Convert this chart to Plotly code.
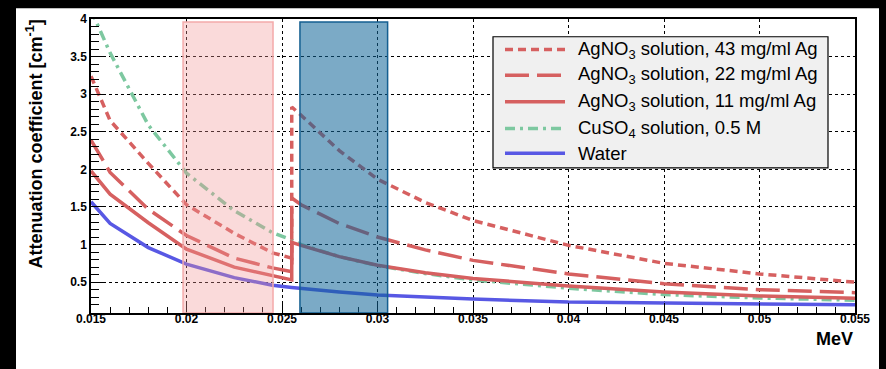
import plotly.graph_objects as go

# ---------------- data ----------------
energy = [0.015, 0.016, 0.018, 0.020, 0.0225, 0.0245, 0.02551, 0.02551, 0.026, 0.028,
          0.030, 0.0325, 0.035, 0.040, 0.045, 0.050, 0.055]
agno3_43 = [3.24, 2.65, 2.08, 1.53, 1.15, 0.89, 0.82, 2.83, 2.72, 2.25,
            1.87, 1.56, 1.32, 0.99, 0.75, 0.61, 0.50]
agno3_22 = [2.39, 1.96, 1.47, 1.12, 0.82, 0.69, 0.64, 1.62, 1.53, 1.28,
            1.10, 0.93, 0.79, 0.61, 0.48, 0.40, 0.36]
agno3_11 = [1.98, 1.67, 1.29, 0.94, 0.70, 0.58, 0.53, 1.03, 0.99, 0.84,
            0.725, 0.625, 0.55, 0.45, 0.37, 0.316, 0.285]
cuso4 = [4.12, 3.55, 2.59, 1.95, 1.45, 1.16, 1.06, 1.06, 1.00, 0.84,
         0.72, 0.615, 0.53, 0.42, 0.335, 0.29, 0.26]
water = [1.57, 1.28, 0.96, 0.74, 0.56, 0.46, 0.43, 0.43, 0.417, 0.37,
         0.33, 0.30, 0.275, 0.235, 0.22, 0.21, 0.20]

series_names = ["AgNO<sub>3</sub> solution, 43 mg/ml Ag",
                "AgNO<sub>3</sub> solution, 22 mg/ml Ag",
                "AgNO<sub>3</sub> solution, 11 mg/ml Ag",
                "CuSO<sub>4</sub> solution, 0.5 M",
                "Water"]

band_pink = [0.01982, 0.02453]
band_blue = [0.02594, 0.03053]
band_top = 3.96

x_tickvals = [0.015, 0.02, 0.025, 0.03, 0.035, 0.04, 0.045, 0.05, 0.055]
x_ticktext = ["0.015", "0.02", "0.025", "0.03", "0.035", "0.04", "0.045", "0.05", "0.055"]
y_tickvals = [0.5, 1, 1.5, 2, 2.5, 3, 3.5, 4]
y_ticktext = ["0.5", "1", "1.5", "2", "2.5", "3", "3.5", "4"]

# ---------------- styling ----------------
W, H = 886, 369
ML, MR, MT, MB = 91, 31, 15, 56
PW, PH = W - ML - MR, H - MT - MB

def px2x(px):
    return (px - ML) / PW

def px2y(py):
    return (H - MB - py) / PH

RED = "rgb(214,96,96)"
GREEN = "rgb(125,200,160)"
BLUE = "rgb(88,88,228)"
LW = 3.5
styles = [
    dict(color=RED, width=LW, dash="8px,5px"),
    dict(color=RED, width=LW, dash="24px,8px"),
    dict(color=RED, width=LW, dash="solid"),
    dict(color=GREEN, width=LW, dash="10px,5px,3px,5px"),
    dict(color=BLUE, width=LW, dash="solid"),
]
all_series = [agno3_43, agno3_22, agno3_11, cuso4, water]

fig = go.Figure()
for idx in [4, 3, 2, 1, 0]:
    fig.add_trace(go.Scatter(x=energy, y=all_series[idx], mode="lines",
                             line=styles[idx], showlegend=False,
                             name=series_names[idx]))

shapes = []
# white panel over black paper
shapes.append(dict(type="rect", xref="paper", yref="paper",
                   x0=px2x(16), x1=px2x(879), y0=px2y(372), y1=px2y(4),
                   fillcolor="white", line=dict(width=0), layer="below"))
# energy bands
shapes.append(dict(type="rect", xref="x", yref="y",
                   x0=band_pink[0], x1=band_pink[1], y0=0.09, y1=band_top,
                   fillcolor="rgba(240,150,150,0.35)",
                   line=dict(color="rgb(244,170,170)", width=1.5)))
shapes.append(dict(type="rect", xref="x", yref="y",
                   x0=band_blue[0], x1=band_blue[1], y0=0.09, y1=band_top,
                   fillcolor="rgba(15,100,151,0.55)",
                   line=dict(color="rgb(20,95,145)", width=1.5)))
# legend box
shapes.append(dict(type="rect", xref="paper", yref="paper",
                   x0=px2x(493), x1=px2x(828), y0=px2y(166), y1=px2y(33),
                   fillcolor="rgb(240,240,240)", line=dict(color="black", width=1.2)))

row_y = [46, 72, 99, 126, 151]
annotations = []
for i, name in enumerate(series_names):
    yy = px2y(row_y[i])
    st = styles[i]
    shapes.append(dict(type="line", xref="paper", yref="paper",
                       x0=px2x(505), x1=px2x(565), y0=yy, y1=yy,
                       line=dict(color=st["color"], width=st["width"], dash=st["dash"])))
    annotations.append(dict(xref="paper", yref="paper", x=px2x(576), y=yy,
                            xanchor="left", yanchor="middle", showarrow=False,
                            text=name,
                            font=dict(family="Liberation Sans, Arial", size=18.5, color="black")))

annotations.append(dict(xref="paper", yref="paper", x=px2x(35), y=px2y(14),
                        xanchor="center", yanchor="top", textangle=-90, showarrow=False,
                        text="Attenuation coefficient [cm<sup>-1</sup>]",
                        font=dict(family="Liberation Sans, Arial", size=18, color="black",
                                  weight="bold")))
annotations.append(dict(xref="paper", yref="paper", x=1.0, y=px2y(339),
                        xanchor="right", yanchor="middle", showarrow=False,
                        text="MeV",
                        font=dict(family="Liberation Sans, Arial", size=18, color="black",
                                  weight="bold")))

tickfont = dict(family="Liberation Sans, Arial", size=12, color="black", weight="bold")

fig.update_layout(
    width=W, height=H,
    margin=dict(l=ML, r=MR, t=MT, b=MB, pad=0),
    paper_bgcolor="black",
    plot_bgcolor="white",
    shapes=shapes,
    annotations=annotations,
    xaxis=dict(range=[0.015, 0.055], tickvals=x_tickvals, ticktext=x_ticktext,
               ticks="inside", ticklen=10, tickwidth=1, tickcolor="black",
               ticklabelstandoff=-6,
               minor=dict(dtick=0.001, ticks="inside", ticklen=6, tickcolor="black",
                          showgrid=False),
               showgrid=True, gridcolor="black", gridwidth=1, griddash="3px,3px",
               showline=True, linecolor="black", linewidth=1.5, mirror=True,
               zeroline=False, tickfont=tickfont),
    yaxis=dict(range=[0.09, 4], tickvals=y_tickvals, ticktext=y_ticktext,
               ticks="inside", ticklen=12, tickwidth=1, tickcolor="black",
               minor=dict(dtick=0.1, tick0=0, ticks="inside", ticklen=8, tickcolor="black",
                          showgrid=False),
               showgrid=True, gridcolor="black", gridwidth=1, griddash="3px,3px",
               showline=True, linecolor="black", linewidth=1.5, mirror=True,
               zeroline=False, tickfont=tickfont),
)

fig.write_html("out.html")
